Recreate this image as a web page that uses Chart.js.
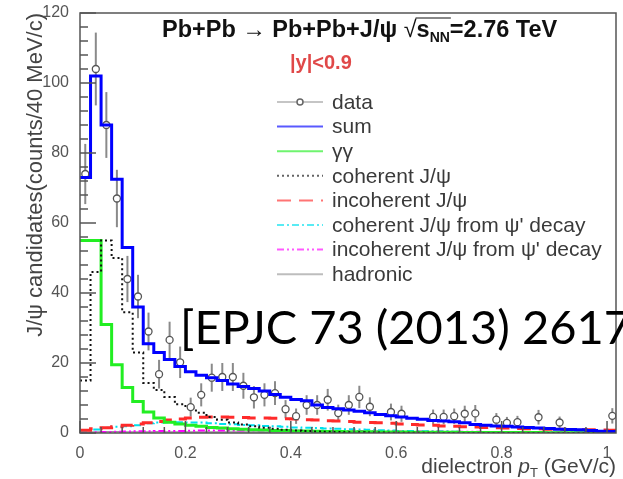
<!DOCTYPE html>
<html>
<head>
<meta charset="utf-8">
<script src="https://cdn.jsdelivr.net/npm/chart.js@4.4.0/dist/chart.umd.min.js"></script>
<style>
  html, body { margin: 0; padding: 0; background: #fff; }
  #wrap { position: relative; width: 623px; height: 479px; overflow: hidden; }
  canvas { position: absolute; left: 0; top: 0; }
  .cite { position: absolute; font-family: Lato, "Open Sans", sans-serif; font-size: 47px; line-height: 1; color: #000; white-space: nowrap; }
</style>
</head>
<body>
<div id="wrap">
  <canvas id="ptChart" width="623" height="479"></canvas>
  <div class="cite" style="left:180px; top:303px;">[EPJC 73 (2013) 2617</div>
  <div class="cite" style="left:-12px; top:319px;">)</div>
  <div class="cite" style="left:-12px; top:401px;">)</div>
</div>
<script>
// pT histograms, 20 MeV/c bins starting at 0
const binWidth = 0.02;
const xMax = 1.017;

const sumCounts = [73, 102, 88, 72.5, 53, 36, 25.5, 23, 21, 19, 17.5, 16.5, 15.8, 15, 14, 13.3, 12.7, 12, 11, 10.2,
  9.6, 9.2, 8.0, 7.3, 6.9, 6.6, 6.2, 5.8, 5.3, 4.9, 4.6, 4.2, 3.9, 3.6, 3.4, 3.2, 2.9, 2.4, 2.2, 2.0,
  1.9, 1.7, 1.6, 1.4, 1.3, 1.1, 1.0, 0.9, 0.7, 0.5, 0.4];
const gammaCounts = [55, 55, 31, 19.5, 13, 9, 6, 4.3, 3.1, 2.6, 2.2, 1.9, 1.6, 1.4, 1.2, 1.05, 0.95, 0.85, 0.75, 0.68,
  0.6, 0.55, 0.5, 0.46, 0.42, 0.38, 0.35, 0.33, 0.3, 0.28, 0.26, 0.24, 0.22, 0.21, 0.19, 0.18, 0.17, 0.16, 0.15, 0.14,
  0.13, 0.12, 0.12, 0.11, 0.1, 0.1, 0.09, 0.09, 0.08, 0.08, 0.07];
const coherentCounts = [15, 46, 55, 50, 34.5, 23, 14.3, 12.3, 10.3, 8.2, 7.1, 5.8, 4.6, 3.8, 3.0, 2.4, 1.9, 1.5, 1.2, 0.9,
  0.7, 0.55, 0.45, 0.35, 0.28, 0.22, 0.18, 0.14, 0.11, 0.09, 0.07, 0.05, 0.04, 0.03, 0.03, 0.02, 0.02, 0.01, 0.01, 0.01,
  0, 0, 0, 0, 0, 0, 0, 0, 0, 0, 0];
const incoherentCounts = [0.8, 1.2, 1.5, 1.8, 2.2, 2.6, 2.9, 3.3, 3.7, 4.0, 4.3, 4.5, 4.6, 4.6, 4.5, 4.4, 4.3, 4.3, 4.2, 4.1,
  4.0, 3.8, 3.7, 3.5, 3.4, 3.3, 3.1, 3.0, 2.9, 2.8, 2.6, 2.4, 2.3, 2.2, 2.0, 1.9, 1.8, 1.7, 1.6, 1.5,
  1.4, 1.3, 1.25, 1.2, 1.1, 1.05, 1.0, 0.95, 0.9, 0.85, 0.8];
const coherentPsiCounts = [0.5, 1.0, 1.5, 1.8, 1.9, 2.2, 2.8, 3.0, 3.1, 3.1, 3.0, 3.0, 2.8, 2.6, 2.5, 2.3, 2.2, 2.0, 1.9, 1.8,
  1.6, 1.5, 1.4, 1.3, 1.2, 1.1, 1.0, 0.9, 0.8, 0.7, 0.6, 0.55, 0.5, 0.45, 0.4, 0.35, 0.3, 0.28, 0.25, 0.22,
  0.2, 0.18, 0.16, 0.14, 0.12, 0.1, 0.1, 0.09, 0.08, 0.07, 0.06];
const incoherentPsiCounts = [0.1, 0.2, 0.3, 0.35, 0.4, 0.5, 0.5, 0.55, 0.6, 0.6, 0.65, 0.7, 0.7, 0.7, 0.75, 0.7, 0.7, 0.7, 0.7, 0.65,
  0.65, 0.6, 0.6, 0.6, 0.55, 0.55, 0.55, 0.5, 0.5, 0.5, 0.45, 0.45, 0.4, 0.4, 0.4, 0.35, 0.35, 0.35, 0.3, 0.3,
  0.3, 0.25, 0.25, 0.25, 0.25, 0.2, 0.2, 0.2, 0.2, 0.2, 0.2];
const hadronicCounts = [0.3, 0.3, 0.35, 0.35, 0.3, 0.3, 0.3, 0.35, 0.3, 0.3, 0.3, 0.3, 0.3, 0.3, 0.3, 0.3, 0.3, 0.25, 0.3, 0.3,
  0.3, 0.3, 0.25, 0.25, 0.3, 0.25, 0.25, 0.25, 0.25, 0.25, 0.25, 0.25, 0.2, 0.2, 0.25, 0.2, 0.2, 0.2, 0.2, 0.2,
  0.2, 0.2, 0.2, 0.2, 0.15, 0.2, 0.15, 0.15, 0.15, 0.15, 0.15];

// measured candidates per bin (null = empty bin) and their statistical errors
const dataCounts = [74, 104, 88, 67, 44, 39, 29, 16.8, 26.6, 20.2, 7.4, 10.9, 15.8, 16, 16, 13.5, 10.2, 10.9, 11.4, 6.8,
  4.8, 8, 8, 9.5, 5.7, 8, 10.3, 7.5, null, 6, 5.5, null, null, 4.6, 4.6, 4.8, 5.5, 5.6, null, 3.8,
  2.9, 3.1, null, 4.5, null, 3.0, null, null, null, null, 4.9];
const dataErrors = [8.6, 10.4, 9.4, 8.2, 6.6, 6.2, 5.4, 4.1, 5.2, 4.5, 2.7, 3.3, 4.0, 4.0, 4.0, 3.7, 3.2, 3.3, 3.4, 2.6,
  2.2, 2.8, 2.8, 3.1, 2.4, 2.8, 3.2, 2.7, null, 2.4, 2.3, null, null, 2.1, 2.1, 2.2, 2.3, 2.4, null, 1.9,
  1.7, 1.8, null, 2.1, null, 1.7, null, null, null, null, 2.2];

const xTickValues = [0, 0.2, 0.4, 0.6, 0.8, 1];
const yTickValues = [0, 20, 40, 60, 80, 100, 120];

const helv = '"Liberation Sans", Arial, sans-serif';

function histSteps(counts) {
  const pts = counts.map((v, i) => ({ x: i * binWidth, y: v }));
  pts.push({ x: counts.length * binWidth, y: counts[counts.length - 1] });
  return pts;
}

const dataPoints = [];
const dataErr = [];
dataCounts.forEach((v, i) => {
  if (v === null) return;
  dataPoints.push({ x: (i + 0.5) * binWidth, y: v });
  dataErr.push(dataErrors[i]);
});

function histDataset(label, counts, color, width, dash, order) {
  return {
    label: label,
    data: histSteps(counts),
    borderColor: color,
    borderWidth: width,
    borderDash: dash,
    stepped: true,
    pointRadius: 0,
    fill: false,
    order: order
  };
}

const datasets = [
  histDataset('sum', sumCounts, '#0000ff', 3, [], 0),
  {
    label: 'data',
    type: 'scatter',
    data: dataPoints,
    errorBars: dataErr,
    pointStyle: 'circle',
    pointRadius: 3.5,
    pointBorderWidth: 1.3,
    pointBorderColor: '#555',
    pointBackgroundColor: '#fff',
    borderColor: '#888',
    showLine: false,
    order: 1
  },
  histDataset('γγ', gammaCounts, '#22ee22', 3, [], 3),
  histDataset('coherent J/ψ', coherentCounts, '#111', 2, [2, 3], 2),
  histDataset('incoherent J/ψ', incoherentCounts, '#ff2a2a', 3, [14, 8], 4),
  histDataset('coherent J/ψ from ψ\' decay', coherentPsiCounts, '#00e0ee', 2, [7, 3, 2, 3], 5),
  histDataset('incoherent J/ψ from ψ\' decay', incoherentPsiCounts, '#ff00ff', 2, [7, 3, 2, 3, 2, 3], 6),
  histDataset('hadronic', hadronicCounts, '#999', 1.5, [], 7)
];

// vertical error bars under the data markers
const errorBars = {
  id: 'errorBars',
  beforeDatasetsDraw(chart) {
    const { ctx, scales: { x, y } } = chart;
    const ds = chart.data.datasets.find(d => d.label === 'data');
    ctx.save();
    ctx.strokeStyle = '#8a8a8a';
    ctx.lineWidth = 2;
    ds.data.forEach((p, i) => {
      const e = ds.errorBars[i];
      const px = x.getPixelForValue(p.x);
      ctx.beginPath();
      ctx.moveTo(px, y.getPixelForValue(p.y - e));
      ctx.lineTo(px, y.getPixelForValue(p.y + e));
      ctx.stroke();
    });
    ctx.restore();
  }
};

// frame plus inward ticks (major and minor) on the left and bottom axes
const frameTicks = {
  id: 'frameTicks',
  afterDatasetsDraw(chart) {
    const { ctx, chartArea: a, scales: { x, y } } = chart;
    ctx.save();
    ctx.strokeStyle = '#555';
    ctx.lineWidth = 1.5;
    ctx.strokeRect(a.left, a.top, a.right - a.left, a.bottom - a.top);
    ctx.beginPath();
    for (let k = 0; k <= 25; k++) {
      const px = x.getPixelForValue(k * 0.04);
      const len = k % 5 === 0 ? 12 : 6;
      ctx.moveTo(px, a.bottom);
      ctx.lineTo(px, a.bottom - len);
    }
    for (let k = 0; k <= 30; k++) {
      const py = y.getPixelForValue(k * 4);
      const len = k % 5 === 0 ? 16 : 8;
      ctx.moveTo(a.left, py);
      ctx.lineTo(a.left + len, py);
    }
    ctx.stroke();
    ctx.restore();
  }
};

// header line and rapidity cut
const header = {
  id: 'header',
  afterDraw(chart) {
    const ctx = chart.ctx;
    ctx.save();
    ctx.fillStyle = '#111';
    ctx.textBaseline = 'alphabetic';
    let x = 162;
    const base = 37;
    ctx.font = 'bold 23.5px ' + helv;
    const head = 'Pb+Pb \u2192 Pb+Pb+J/\u03c8 ';
    ctx.fillText(head, x, base);
    x += ctx.measureText(head).width;
    ctx.font = '23.5px ' + helv;
    ctx.fillText('\u221a', x, base);
    x += ctx.measureText('\u221a').width;
    const barStart = x;
    ctx.font = 'bold 23.5px ' + helv;
    ctx.fillText('s', x, base);
    x += ctx.measureText('s').width;
    ctx.font = 'bold 14px ' + helv;
    ctx.fillText('NN', x, base + 5);
    x += ctx.measureText('NN').width;
    ctx.strokeStyle = '#111';
    ctx.lineWidth = 1.2;
    ctx.beginPath();
    ctx.moveTo(barStart - 1, base - 19);
    ctx.lineTo(x + 1, base - 19);
    ctx.stroke();
    ctx.font = 'bold 23.5px ' + helv;
    ctx.fillText('=2.76 TeV', x, base);

    ctx.fillStyle = '#e04848';
    ctx.font = 'bold 20px ' + helv;
    ctx.fillText('|y|<0.9', 290, 69);
    ctx.restore();
  }
};

// legend box drawn from the dataset styles
const legendOrder = ['data', 'sum', 'γγ', 'coherent J/ψ', 'incoherent J/ψ',
  'coherent J/ψ from ψ\' decay', 'incoherent J/ψ from ψ\' decay', 'hadronic'];
const legendBox = {
  id: 'legendBox',
  afterDraw(chart) {
    const ctx = chart.ctx;
    ctx.save();
    ctx.textBaseline = 'middle';
    legendOrder.forEach((name, i) => {
      const ds = chart.data.datasets.find(d => d.label === name);
      const yy = 102 + i * 24.6;
      ctx.save();
      ctx.globalAlpha = 0.65;
      ctx.strokeStyle = ds.borderColor;
      ctx.lineWidth = name === 'data' ? 1.5 : 2;
      ctx.setLineDash(ds.borderDash || []);
      ctx.beginPath();
      ctx.moveTo(277, yy);
      ctx.lineTo(323, yy);
      ctx.stroke();
      if (name === 'data') {
        ctx.setLineDash([]);
        ctx.globalAlpha = 1;
        ctx.fillStyle = '#fff';
        ctx.strokeStyle = '#666';
        ctx.beginPath();
        ctx.arc(300, yy, 3, 0, Math.PI * 2);
        ctx.fill();
        ctx.stroke();
      }
      ctx.restore();
      ctx.fillStyle = '#3a3a3a';
      ctx.font = '21px ' + helv;
      ctx.fillText(name, 332, yy + 1);
    });
    ctx.restore();
  }
};

// x-axis title with italic p and subscript T, right-aligned to the frame
const xTitle = {
  id: 'xTitle',
  afterDraw(chart) {
    const ctx = chart.ctx;
    const right = chart.chartArea.right;
    const base = 473;
    const parts = [
      { t: 'dielectron ', f: '21px ' + helv, dy: 0 },
      { t: 'p', f: 'italic 21px ' + helv, dy: 0 },
      { t: 'T', f: '13px ' + helv, dy: 4 },
      { t: ' (GeV/c)', f: '21px ' + helv, dy: 0 }
    ];
    ctx.save();
    ctx.fillStyle = '#444';
    let total = 0;
    parts.forEach(p => { ctx.font = p.f; total += ctx.measureText(p.t).width; });
    let x = right - total;
    parts.forEach(p => {
      ctx.font = p.f;
      ctx.fillText(p.t, x, base + p.dy);
      x += ctx.measureText(p.t).width;
    });
    ctx.restore();
  }
};

new Chart(document.getElementById('ptChart'), {
  type: 'line',
  data: { datasets: datasets },
  options: {
    responsive: false,
    animation: false,
    layout: { padding: { top: 13, right: 7, left: 0, bottom: 0 } },
    plugins: {
      legend: { display: false },
      tooltip: { enabled: false }
    },
    scales: {
      x: {
        type: 'linear',
        min: 0,
        max: xMax,
        afterFit: s => { s.height = 46; },
        grid: { display: false },
        border: { display: false },
        afterBuildTicks: s => { s.ticks = xTickValues.map(v => ({ value: v })); },
        ticks: {
          color: '#555',
          font: { family: helv, size: 16 },
          padding: 3,
          maxRotation: 0,
          callback: v => String(v)
        }
      },
      y: {
        min: 0,
        max: 120,
        afterFit: s => { s.width = 80; },
        grid: { display: false },
        border: { display: false },
        afterBuildTicks: s => { s.ticks = yTickValues.map(v => ({ value: v })); },
        ticks: {
          color: '#555',
          font: { family: helv, size: 16 },
          padding: 3
        },
        title: {
          display: true,
          text: 'J/\u03c8 candidates(counts/40 MeV/c)',
          align: 'end',
          color: '#444',
          font: { family: helv, size: 22 },
          padding: { top: 23, bottom: 0 }
        }
      }
    }
  },
  plugins: [errorBars, frameTicks, header, legendBox, xTitle]
});
</script>
</body>
</html>
